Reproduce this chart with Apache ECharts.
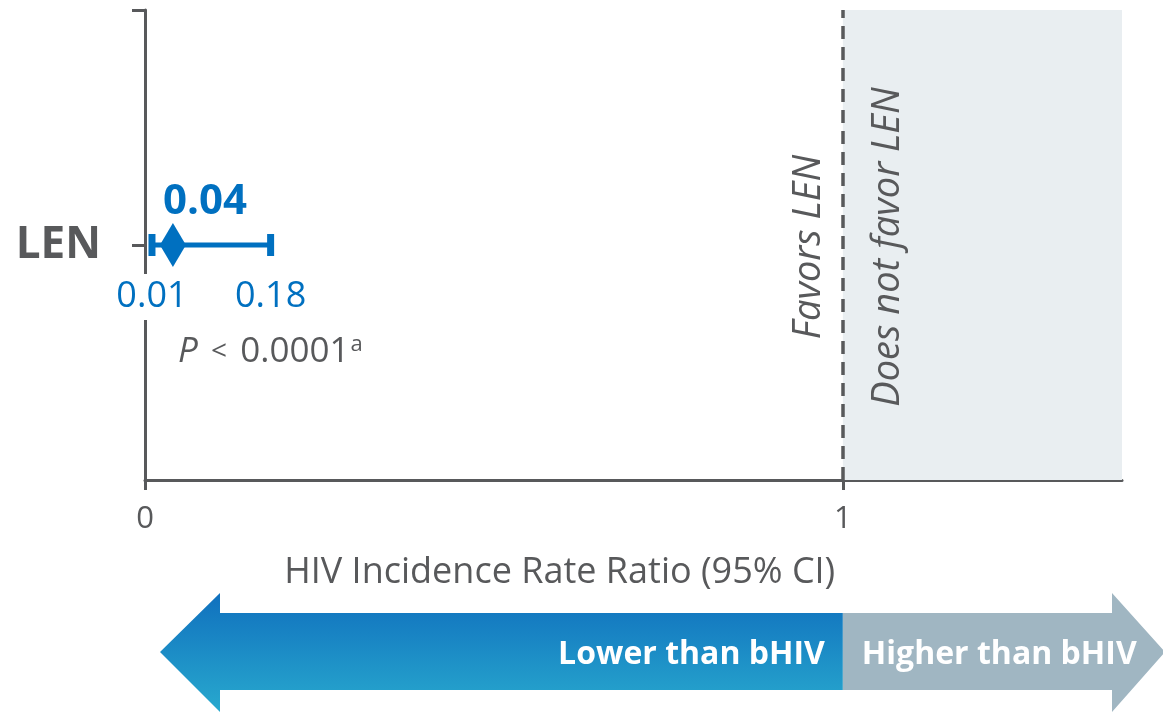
<!DOCTYPE html>
<html>
<head>
<meta charset="utf-8">
<script src="https://cdn.jsdelivr.net/npm/echarts@6/dist/echarts.min.js"></script>
<style>
  html, body { margin: 0; padding: 0; background: #fff; }
  #chart { width: 1163px; height: 713px; }
</style>
</head>
<body>
<div id="chart"></div>
<script>
  // data
  const categories = ['LEN'];
  const estimates = [0.04];
  const lowerCI = [0.01];
  const upperCI = [0.18];
  const xTicks = [0, 1];
  const xMax = 1.4;
  const pValue = '0.0001';

  const BLUE = '#0070C0';
  const GREY = '#58595B';
  const FONT = 'Open Sans';

  const chart = echarts.init(document.getElementById('chart'));

  // one row per category: [estimate, y position, lo, hi]
  const rows = categories.map((c, i) => [estimates[i], i + 1, lowerCI[i], upperCI[i]]);

  const option = {
    animation: false,
    grid: { left: 145, top: 10, width: 977, height: 470 },
    xAxis: {
      type: 'value',
      min: 0,
      max: xMax,
      splitLine: { show: false },
      axisLine: { lineStyle: { color: GREY, width: 3 } },
      axisTick: { customValues: xTicks, length: 10, lineStyle: { color: GREY, width: 3 } },
      axisLabel: {
        customValues: xTicks,
        margin: 24,
        color: GREY,
        fontFamily: FONT,
        fontSize: 31
      }
    },
    yAxis: {
      type: 'value',
      min: 0,
      max: categories.length + 1,
      splitLine: { show: false },
      axisLine: { show: true, lineStyle: { color: GREY, width: 3 } },
      axisTick: { show: true, customValues: [1, categories.length + 1], length: 13, lineStyle: { color: GREY, width: 3 } },
      axisLabel: {
        customValues: categories.map((c, i) => i + 1),
        formatter: v => categories[v - 1] || '',
        margin: 44,
        color: GREY,
        fontFamily: FONT,
        fontWeight: 'bold',
        fontSize: 44
      }
    },
    series: [
      {
        type: 'custom',
        data: rows,
        z: 3,
        renderItem: (params, api) => {
          const y = api.value(1);
          const lo = api.coord([api.value(2), y]);
          const hi = api.coord([api.value(3), y]);
          const h = 11;
          const lbl = (p, txt) => ({
            type: 'text',
            x: p[0],
            y: p[1] + 52,
            style: {
              text: txt,
              fill: BLUE,
              font: '36px "' + FONT + '"',
              align: 'center',
              verticalAlign: 'middle',
              backgroundColor: '#fff',
              padding: [5, 3]
            }
          });
          return {
            type: 'group',
            children: [
              { type: 'line', shape: { x1: lo[0], y1: lo[1], x2: hi[0], y2: hi[1] }, style: { stroke: BLUE, lineWidth: 5 } },
              { type: 'line', shape: { x1: lo[0], y1: lo[1] - h, x2: lo[0], y2: lo[1] + h }, style: { stroke: BLUE, lineWidth: 7 } },
              { type: 'line', shape: { x1: hi[0], y1: hi[1] - h, x2: hi[0], y2: hi[1] + h }, style: { stroke: BLUE, lineWidth: 7 } },
              lbl(lo, lowerCI[params.dataIndex].toFixed(2)),
              lbl(hi, upperCI[params.dataIndex].toFixed(2))
            ]
          };
        }
      },
      {
        type: 'scatter',
        z: 4,
        symbol: 'diamond',
        symbolSize: [26, 44],
        itemStyle: { color: BLUE, opacity: 1 },
        data: rows.map(r => [r[0], r[1]]),
        label: {
          show: true,
          position: 'top',
          distance: 0,
          offset: [32, 0],
          formatter: p => p.value[0].toFixed(2),
          color: BLUE,
          fontFamily: FONT,
          fontWeight: 'bold',
          fontSize: 42
        },
        markArea: {
          silent: true,
          itemStyle: { color: '#E9EEF1' },
          data: [[{ xAxis: 1 }, { xAxis: xMax }]]
        },
        markLine: {
          silent: true,
          symbol: 'none',
          label: { show: false },
          lineStyle: { color: GREY, width: 3.5, type: [13, 8] },
          data: [{ xAxis: 1 }]
        }
      }
    ]
  };

  chart.setOption(option);

  // annotations placed from the axis scale
  const one = chart.convertToPixel({ gridIndex: 0 }, [1, 1]);
  const mid = chart.convertToPixel({ gridIndex: 0 }, [0.6, 0]);
  const lo0 = chart.convertToPixel({ gridIndex: 0 }, [lowerCI[0], 1]);
  const ax = one[0];

  const italic = 'italic 38px "' + FONT + '"';
  const boldW = 'bold 32px "' + FONT + '"';

  chart.setOption({
    graphic: [
      {
        type: 'text', x: ax - 34, y: one[1] + 2, rotation: Math.PI / 2, z: 100,
        style: { text: 'Favors LEN', font: italic, fill: GREY, align: 'center', verticalAlign: 'middle' }
      },
      {
        type: 'text', x: ax + 45, y: one[1] + 2, rotation: Math.PI / 2, z: 100,
        style: { text: 'Does not favor LEN', font: italic, fill: GREY, align: 'center', verticalAlign: 'middle' }
      },
      {
        type: 'text', x: mid[0] - 4, y: 573, z: 100,
        style: { text: 'HIV Incidence Rate Ratio (95% CI)', font: '36px "' + FONT + '"', fill: GREY, align: 'center', verticalAlign: 'middle' }
      },
      {
        type: 'text', x: lo0[0] + 26, y: one[1] + 107, z: 100,
        style: {
          text: '{p|P}{l| < }{t|' + pValue + '}{s|a}',
          verticalAlign: 'middle',
          rich: {
            p: { font: 'italic 35px "' + FONT + '"', fill: GREY },
            l: { font: '28px "' + FONT + '"', fill: GREY, padding: [0, 6, 0, 6] },
            t: { font: '35px "' + FONT + '"', fill: GREY },
            s: { font: '22px "' + FONT + '"', fill: GREY, verticalAlign: 'top', padding: [0, 0, 14, 1] }
          }
        }
      },
      {
        type: 'polygon', z: 100,
        shape: { points: [[160, 652], [220, 593], [220, 613], [ax, 613], [ax, 690], [220, 690], [220, 712]] },
        style: {
          fill: new echarts.graphic.LinearGradient(0, 0, 0, 1, [
            { offset: 0, color: '#1070BE' },
            { offset: 1, color: '#28A9CE' }
          ])
        }
      },
      {
        type: 'polygon', z: 100,
        shape: { points: [[ax, 613], [1112, 613], [1112, 593], [1165, 652], [1112, 712], [1112, 690], [ax, 690]] },
        style: { fill: '#A0B6C2' }
      },
      {
        type: 'text', x: ax - 18, y: 655, z: 101,
        style: { text: 'Lower than bHIV', font: boldW, fill: '#fff', align: 'right', verticalAlign: 'middle' }
      },
      {
        type: 'text', x: ax + 19, y: 655, z: 101,
        style: { text: 'Higher than bHIV', font: boldW, fill: '#fff', align: 'left', verticalAlign: 'middle' }
      }
    ]
  });
</script>
</body>
</html>
